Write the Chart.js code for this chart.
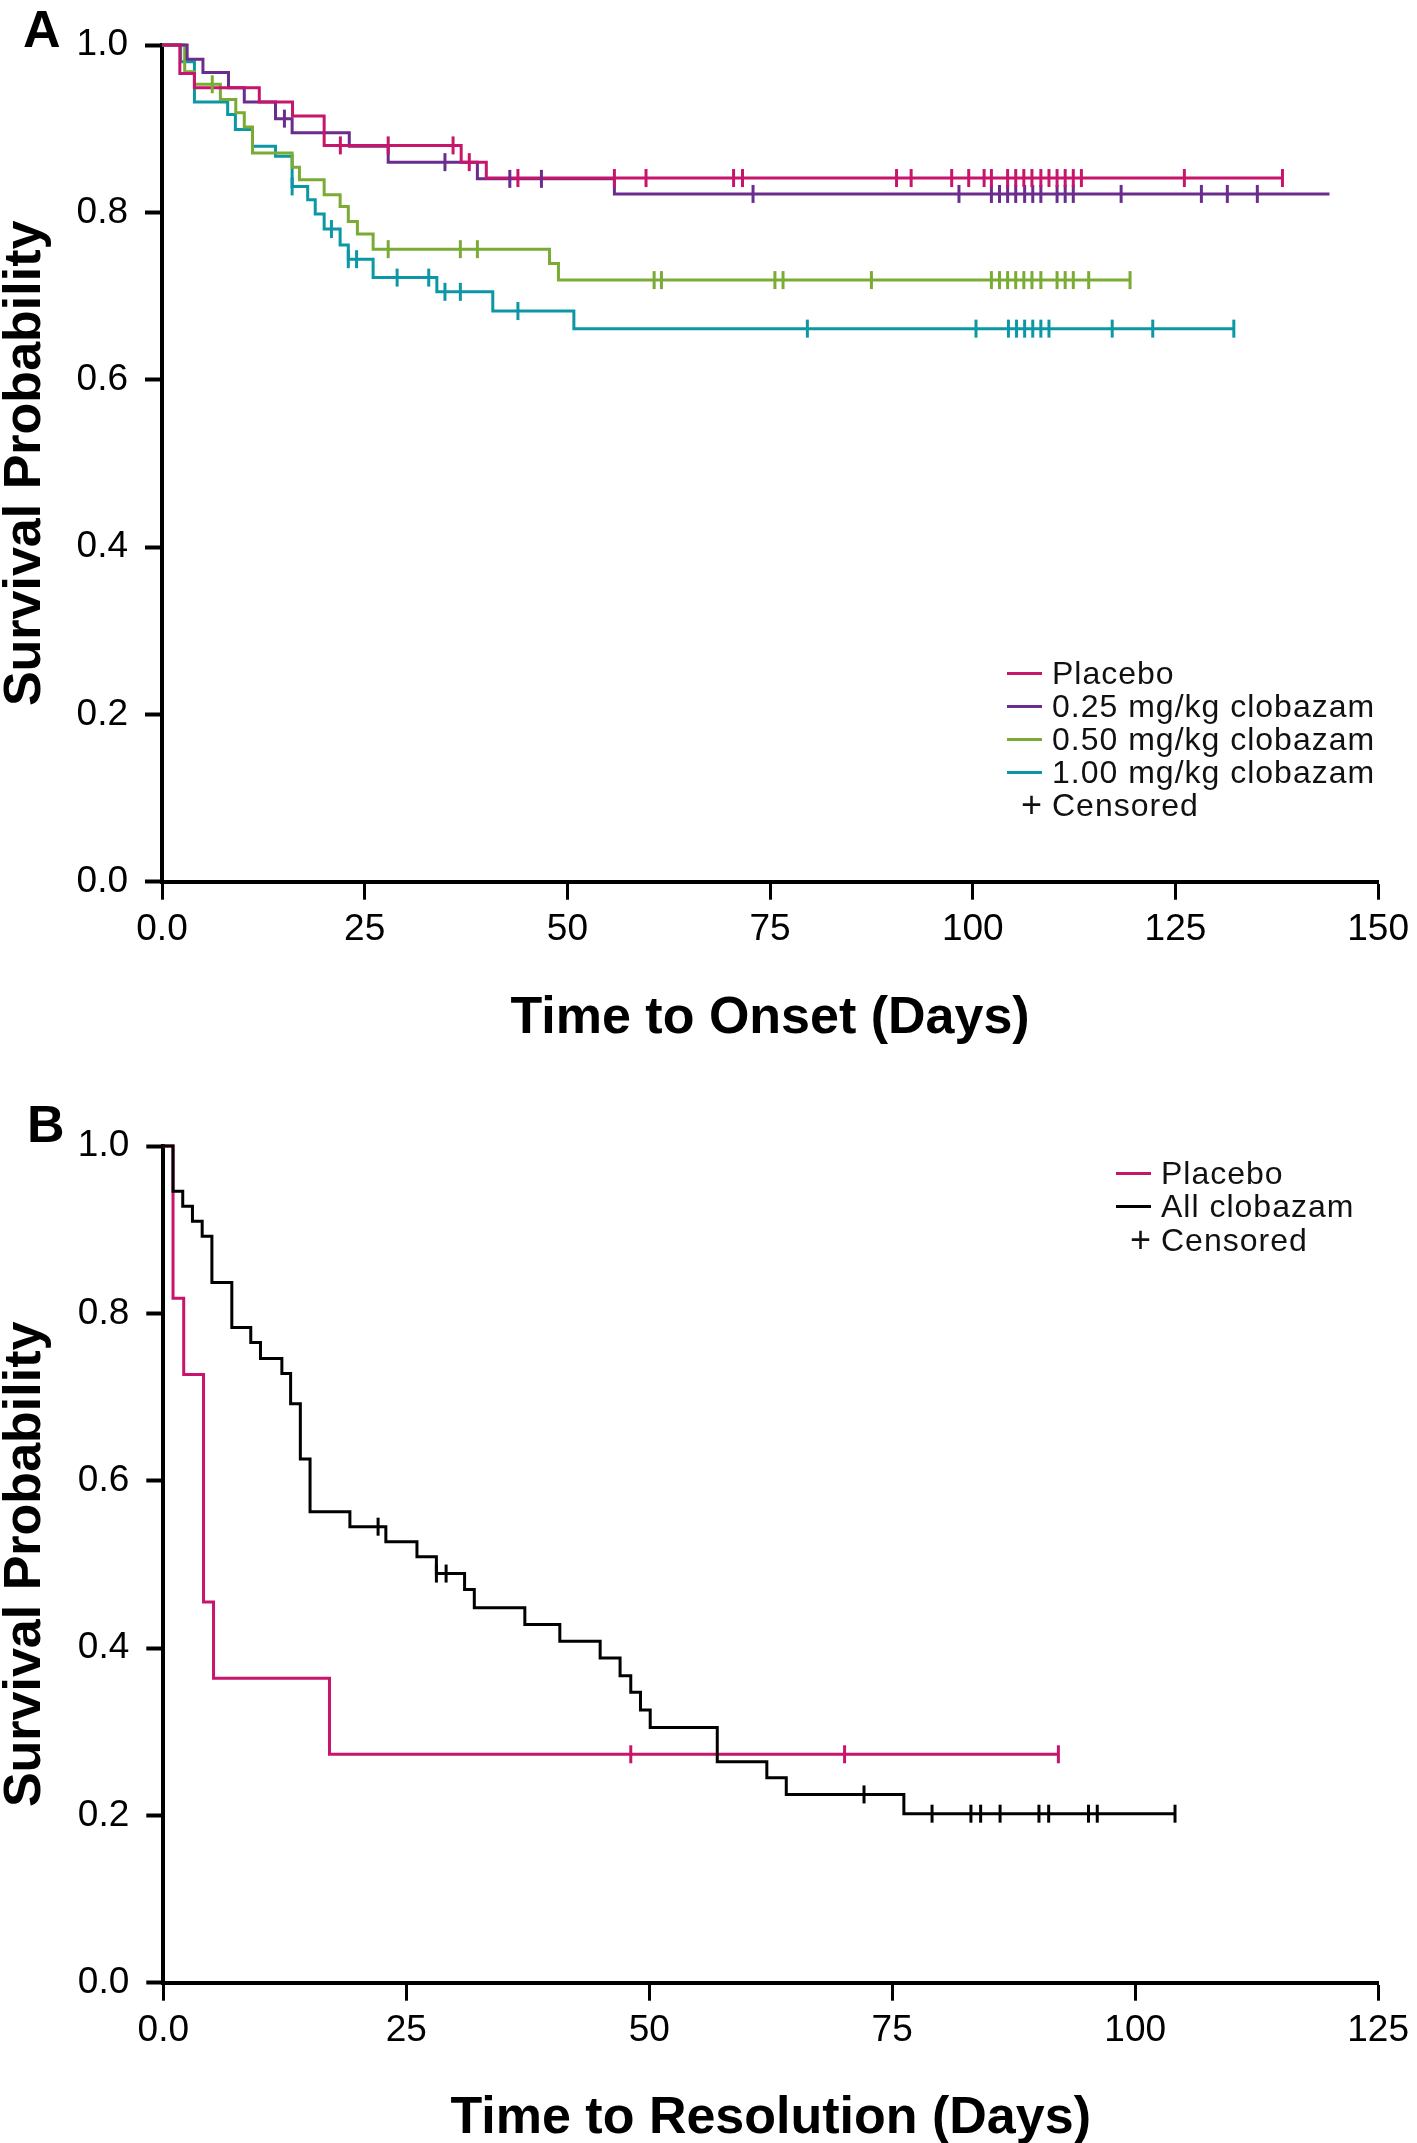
<!DOCTYPE html>
<html>
<head>
<meta charset="utf-8">
<script src="https://cdn.jsdelivr.net/npm/chart.js@4.4.1/dist/chart.umd.min.js"></script>
<style>
html, body { margin: 0; padding: 0; background: #fff; overflow: hidden; }
#page { position: relative; width: 1417px; height: 2143px; overflow: hidden; font-family: 'Liberation Sans', Arial, sans-serif; color: #111; }
canvas { position: absolute; left: 0; }
.panel { position: absolute; font-weight: bold; font-size: 52px; line-height: 52px; color: #000; }
.leg { position: absolute; font-size: 32px; line-height: 33px; letter-spacing: 1px; white-space: nowrap; }
.plus { font-size: 36px; }
.swatch { position: absolute; height: 3px; width: 35px; }
</style>
</head>
<body>
<div id="page">
  <canvas id="chartA" width="1417" height="1080" style="top:0"></canvas>
  <canvas id="chartB" width="1417" height="1080" style="top:1080px"></canvas>
  <div class="panel" style="left:23px;top:3px">A</div>
  <div class="panel" style="left:27px;top:1098px">B</div>
  <div id="legendA"></div>
  <div id="legendB"></div>
</div>
<script>
// ---- Panel A: time to onset ----
const onsetLabels = ['Placebo', '0.25 mg/kg clobazam', '0.50 mg/kg clobazam', '1.00 mg/kg clobazam'];
const onsetColors = ['#c8156c', '#6a2d8e', '#7aab34', '#0b97a4'];

const placeboTimes = [0, 2.2, 4.0, 12.0, 16.1, 20.0, 36.9, 40.0];
const placeboSurv  = [1, 0.966, 0.949, 0.932, 0.915, 0.880, 0.860, 0.841];
const placeboCens  = [22.0, 27.9, 35.9, 37.9, 43.9, 55.8, 59.7, 70.5, 71.6, 90.6, 92.4, 97.4, 99.5, 101.4, 102.3,
                      104.3, 105.3, 106.3, 107.3, 108.4, 109.4, 110.4, 111.4, 112.4, 113.4, 126.1, 138.2];
const placeboEnd   = 138.2;

const dose25Times = [0, 3.1, 5.05, 8.2, 10.15, 14.0, 16.05, 23.1, 27.9, 38.9, 55.8];
const dose25Surv  = [1, 0.983, 0.967, 0.949, 0.932, 0.912, 0.895, 0.879, 0.860, 0.840, 0.822];
const dose25Cens  = [15.1, 34.9, 42.9, 46.8, 72.9, 98.3, 102.3, 103.3, 104.3, 105.3, 106.4, 107.4, 108.4,
                     110.4, 111.4, 112.4, 118.3, 128.2, 131.4, 135.1];
const dose25End   = 144.0;

const dose50Times = [0, 2.8, 4.0, 7.2, 9.1, 10.15, 11.16, 16.05, 16.95, 20.0, 21.97, 22.98, 24.1, 26.04, 47.8, 48.9];
const dose50Surv  = [1, 0.968, 0.953, 0.935, 0.919, 0.902, 0.871, 0.854, 0.839, 0.821, 0.807, 0.789, 0.774, 0.756, 0.739, 0.719];
const dose50Cens  = [6.2, 27.9, 36.8, 38.9, 60.7, 61.6, 75.6, 76.6, 87.5, 102.3, 103.3, 104.3, 105.3, 106.3,
                     107.3, 108.4, 110.4, 111.4, 112.4, 114.3, 119.4];
const dose50End   = 119.4;

const dose100Times = [0, 2.3, 4.0, 8.1, 9.05, 11.16, 14.0, 16.05, 17.97, 18.9, 20.0, 21.97, 22.98, 26.04, 33.9, 40.8, 50.8];
const dose100Surv  = [1, 0.980, 0.932, 0.917, 0.899, 0.879, 0.867, 0.831, 0.815, 0.798, 0.780, 0.761, 0.744, 0.722, 0.705, 0.682, 0.661];
const dose100Cens  = [16.05, 20.9, 22.98, 24.0, 29.0, 32.9, 34.9, 36.8, 43.9, 79.6, 100.4, 104.4, 105.4, 106.4,
                      107.4, 108.4, 109.4, 117.2, 122.2, 132.2];
const dose100End   = 132.2;

const onsetXTicks  = [0, 25, 50, 75, 100, 125, 150];
const onsetXLabels = ['0.0', '25', '50', '75', '100', '125', '150'];

// ---- Panel B: time to resolution ----
const resolutionLabels = ['Placebo', 'All clobazam'];
const resolutionColors = ['#c8156c', '#000000'];

const placeboBTimes = [0, 1.0, 2.1, 4.14, 5.17, 17.1];
const placeboBSurv  = [1, 0.818, 0.727, 0.455, 0.364, 0.273];
const placeboBCens  = [48.1, 70.1, 92.1];
const placeboBEnd   = 92.1;

const clobazamTimes = [0, 1.0, 2.0, 3.0, 4.0, 5.0, 7.05, 9.0, 10.0, 12.2, 13.1, 14.1, 15.1, 19.2, 22.9, 26.1, 28.1,
                       31.0, 32.0, 37.2, 40.8, 44.95, 47.0, 48.1, 49.1, 50.1, 57.0, 62.1, 64.1, 76.2];
const clobazamSurv  = [1, 0.946, 0.928, 0.910, 0.892, 0.837, 0.783, 0.765, 0.746, 0.728, 0.692, 0.626, 0.563, 0.545,
                       0.527, 0.509, 0.489, 0.470, 0.448, 0.428, 0.408, 0.388, 0.367, 0.347, 0.326, 0.305, 0.264,
                       0.245, 0.225, 0.202];
const clobazamCens  = [22.1, 28.1, 29.1, 72.1, 79.1, 83.1, 84.1, 86.1, 90.1, 91.1, 95.2, 96.1, 104.1];
const clobazamEnd   = 104.1;

const resolutionXTicks  = [0, 25, 50, 75, 100, 125];
const resolutionXLabels = ['0.0', '25', '50', '75', '100', '125'];

const yTicks  = [0, 0.2, 0.4, 0.6, 0.8, 1.0];
const yLabels = ['0.0', '0.2', '0.4', '0.6', '0.8', '1.0'];

Chart.defaults.font.family = "'Liberation Sans', Arial, sans-serif";
Chart.defaults.color = '#000';

function kmPoints(times, surv, end) {
    const pts = times.map((t, i) => ({ x: t, y: surv[i] }));
    pts.push({ x: end, y: surv[surv.length - 1] });
    return pts;
}

// survival value in effect at each censoring time
function censorPoints(times, surv, cens) {
    return cens.map(c => {
        let s = surv[0];
        for (let i = 0; i < times.length; i++) if (times[i] <= c) s = surv[i];
        return { x: c, y: s };
    });
}

function curve(times, surv, end, color) {
    return {
        data: kmPoints(times, surv, end), showLine: true, stepped: true,
        borderColor: color, borderWidth: 3, pointRadius: 0, clip: false
    };
}

function marks(times, surv, cens, color) {
    return {
        data: censorPoints(times, surv, cens), showLine: false,
        pointStyle: 'line', pointRotation: 90, pointRadius: 9,
        pointBorderColor: color, pointBorderWidth: 3, borderColor: color, clip: false
    };
}

function createKmChart(id, cfg) {
    const ctx = document.getElementById(id).getContext('2d');
    return new Chart(ctx, {
        type: 'scatter',
        data: { datasets: cfg.datasets },
        options: {
            responsive: false,
            animation: false,
            events: [],
            layout: { autoPadding: false, padding: cfg.padding },
            plugins: { legend: { display: false }, tooltip: { enabled: false } },
            scales: {
                x: {
                    type: 'linear',
                    min: cfg.xTicks[0],
                    max: cfg.xTicks[cfg.xTicks.length - 1],
                    afterFit: s => { s.height = cfg.xHeight; },
                    afterBuildTicks: s => { s.ticks = cfg.xTicks.map(v => ({ value: v })); },
                    border: { display: true, color: '#000', width: 4 },
                    grid: { drawOnChartArea: false, tickLength: 18, tickWidth: 3, tickColor: '#000' },
                    ticks: { callback: (v, i) => cfg.xLabels[i], padding: 8, font: { size: 37 }, maxRotation: 0, autoSkip: false },
                    title: { display: true, text: cfg.xTitle, font: { size: 52, weight: 'bold', lineHeight: 1 },
                             padding: { top: 0, bottom: cfg.xTitlePad } }
                },
                y: {
                    type: 'linear',
                    min: 0,
                    max: 1,
                    afterFit: s => { s.width = cfg.yWidth; },
                    afterBuildTicks: s => { s.ticks = yTicks.map(v => ({ value: v })); },
                    border: { display: true, color: '#000', width: 4 },
                    grid: { drawOnChartArea: false, tickLength: 17, tickWidth: 4, tickColor: '#000' },
                    ticks: { callback: (v, i) => yLabels[i], padding: 17, font: { size: 37 }, autoSkip: false },
                    title: { display: true, text: 'Survival Probability', font: { size: 52, weight: 'bold', lineHeight: 1 },
                             padding: { top: 0, bottom: 0 } }
                }
            }
        }
    });
}

createKmChart('chartA', {
    datasets: [
        marks(placeboTimes, placeboSurv, placeboCens, onsetColors[0]),
        marks(dose25Times, dose25Surv, dose25Cens, onsetColors[1]),
        marks(dose50Times, dose50Surv, dose50Cens, onsetColors[2]),
        marks(dose100Times, dose100Surv, dose100Cens, onsetColors[3]),
        curve(placeboTimes, placeboSurv, placeboEnd, onsetColors[0]),
        curve(dose25Times, dose25Surv, dose25End, onsetColors[1]),
        curve(dose50Times, dose50Surv, dose50End, onsetColors[2]),
        curve(dose100Times, dose100Surv, dose100End, onsetColors[3])
    ],
    padding: { top: 45, right: 28, left: 0, bottom: 0 },
    xTicks: onsetXTicks, xLabels: onsetXLabels,
    xTitle: 'Time to Onset (Days)',
    xHeight: 198.3, xTitlePad: 35, yWidth: 162
});

createKmChart('chartB', {
    datasets: [
        marks(clobazamTimes, clobazamSurv, clobazamCens, resolutionColors[1]),
        marks(placeboBTimes, placeboBSurv, placeboBCens, resolutionColors[0]),
        curve(clobazamTimes, clobazamSurv, clobazamEnd, resolutionColors[1]),
        curve(placeboBTimes, placeboBSurv, placeboBEnd, resolutionColors[0])
    ],
    padding: { top: 66, right: 34.4, left: 0, bottom: 0 },
    xTicks: resolutionXTicks, xLabels: resolutionXLabels,
    xTitle: 'Time to Resolution (Days)',
    xHeight: 177.3, xTitlePad: 15, yWidth: 163.3
});

function buildLegend(id, labels, colors, left, top, rowH) {
    const box = document.getElementById(id);
    let html = '';
    labels.forEach((lab, i) => {
        const y = top + i * rowH;
        html += `<div class="swatch" style="left:${left}px;top:${y + 15}px;background:${colors[i]}"></div>`;
        html += `<div class="leg" style="left:${left + 45}px;top:${y}px">${lab}</div>`;
    });
    const y = top + labels.length * rowH;
    html += `<div class="leg plus" style="left:${left + 14}px;top:${y - 1}px">+</div>`;
    html += `<div class="leg" style="left:${left + 45}px;top:${y}px">Censored</div>`;
    box.innerHTML = html;
}

buildLegend('legendA', onsetLabels, onsetColors, 1007, 656.5, 33.2);
buildLegend('legendB', resolutionLabels, resolutionColors, 1116, 1157, 33.4);
</script>
</body>
</html>
